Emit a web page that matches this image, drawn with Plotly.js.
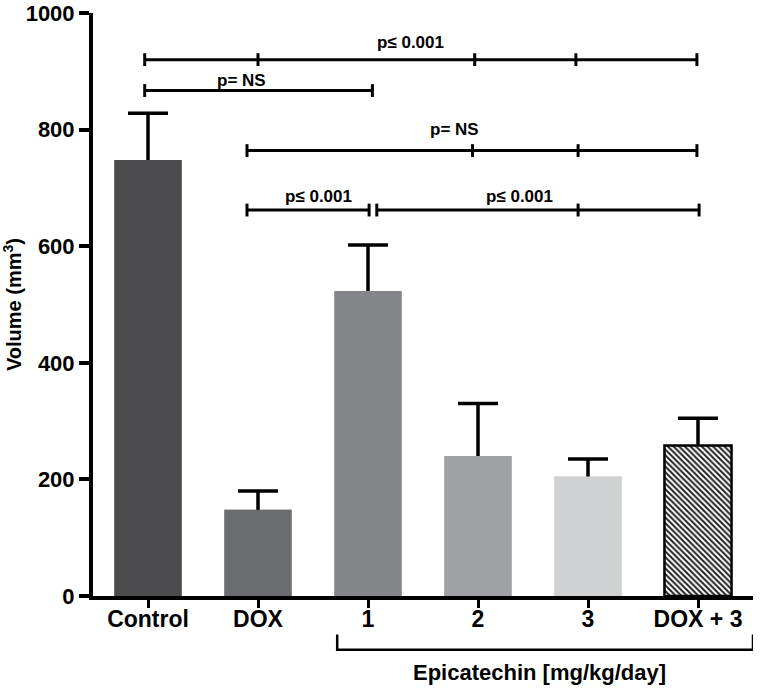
<!DOCTYPE html>
<html>
<head>
<meta charset="utf-8">
<script src="https://cdn.plot.ly/plotly-3.0.1.min.js"></script>
<style>html,body{margin:0;padding:0;background:#fff;}#chart{width:764px;height:688px;}</style>
</head>
<body>
<div id="chart"></div>
<script>
// ---- data ----
const categories = ['Control', 'DOX', '1', '2', '3', 'DOX + 3'];
const volumeMean = [748, 148, 523, 240, 205, 258];
const volumeErrUp = [80, 32, 79, 90, 30, 47];
const barColors = ['#4b4b4d', '#6b6c70', '#858689', '#9fa0a4', '#d0d1d3', '#ffffff'];
const yTickVals = [0, 200, 400, 600, 800, 1000];

// significance brackets: y level, tick positions (category index), label, label position
const sigY = [920, 867, 764, 662, 662];
const sigX = [
  [-0.03, 1.0, 2.97, 3.89, 4.99],
  [-0.03, 2.04],
  [0.9, 2.95, 3.91, 4.99],
  [0.9, 2.01],
  [2.08, 3.91, 5.01]
];
const sigLabels = ['p≤ 0.001', 'p= NS', 'p= NS', 'p≤ 0.001', 'p≤ 0.001'];
const sigLabelX = [2.39, 0.85, 2.79, 1.55, 3.38];
const sigLabelY = [949, 885, 800, 685, 685];
const groupLabel = 'Epicatechin [mg/kg/day]';

const FONT = 'Liberation Sans, Arial, Helvetica, sans-serif';
const BW = 0.61;

// trace with error bars (lower half hidden under the covering bars)
const errTrace = {
  type: 'bar', x: categories, y: volumeMean, width: BW,
  marker: {color: barColors, line: {width: 0}},
  error_y: {type: 'data', symmetric: true, array: volumeErrUp, color: '#000', thickness: 3.5, width: 20},
  hoverinfo: 'skip'
};
// solid bars covering the lower part of the error bars
const solidTrace = {
  type: 'bar', x: categories.slice(0, 5), y: volumeMean.slice(0, 5), width: BW,
  marker: {color: barColors.slice(0, 5), line: {width: 0}},
  hoverinfo: 'x+y'
};
// hatched DOX + 3 bar
const hatchTrace = {
  type: 'bar', x: categories.slice(5), y: volumeMean.slice(5), width: BW,
  marker: {
    color: '#ffffff',
    line: {color: '#000', width: 2.5},
    pattern: {shape: '\\', fgcolor: '#222', bgcolor: '#ffffff', size: 4, solidity: 0.5, fillmode: 'replace'}
  },
  hoverinfo: 'x+y'
};

const shapes = [];
const annotations = [];
const tickH = 11;
for (let i = 0; i < sigY.length; i++) {
  const xs = sigX[i];
  shapes.push({type: 'line', xref: 'x', yref: 'y', x0: xs[0], x1: xs[xs.length - 1], y0: sigY[i], y1: sigY[i], line: {color: '#000', width: 3}});
  xs.forEach(function (xv) {
    shapes.push({type: 'line', xref: 'x', yref: 'y', x0: xv, x1: xv, y0: sigY[i] - tickH, y1: sigY[i] + tickH, line: {color: '#000', width: 3}});
  });
  annotations.push({xref: 'x', yref: 'y', x: sigLabelX[i], y: sigLabelY[i], text: sigLabels[i], showarrow: false,
    xanchor: 'center', yanchor: 'middle', font: {family: FONT, size: 17, weight: 'bold', color: '#000'}});
}
// group bracket under epicatechin doses
shapes.push({type: 'path', xref: 'x', yref: 'paper', path: 'M 1.72 -0.066 L 1.72 -0.092 L 5.5 -0.092 L 5.5 -0.066', line: {color: '#000', width: 2.5}});
annotations.push({xref: 'x', yref: 'paper', x: 3.56, y: -0.131, text: groupLabel, showarrow: false,
  xanchor: 'center', yanchor: 'middle', font: {family: FONT, size: 22, weight: 'bold', color: '#000'}});

const layout = {
  width: 764, height: 688,
  margin: {l: 93, r: 11, t: 13, b: 92},
  paper_bgcolor: '#fff', plot_bgcolor: '#fff',
  showlegend: false,
  barmode: 'overlay',
  font: {family: FONT, color: '#000'},
  xaxis: {
    type: 'category', range: [-0.5, 5.5],
    showline: true, linecolor: '#000', linewidth: 4,
    ticks: 'outside', ticklen: 8, tickwidth: 3, tickcolor: '#000',
    ticklabelstandoff: -9,
    showgrid: false, zeroline: false,
    tickfont: {family: FONT, size: 23, weight: 'bold', color: '#000'},
    fixedrange: true
  },
  yaxis: {
    range: [0, 1000], tickvals: yTickVals,
    showline: true, linecolor: '#000', linewidth: 4,
    ticks: 'outside', ticklen: 10, tickwidth: 4, tickcolor: '#000',
    showgrid: false, zeroline: false,
    ticklabeloverflow: 'allow',
    tickfont: {family: FONT, size: 22, weight: 'bold', color: '#000'},
    title: {text: 'Volume (mm<sup>3</sup>)', font: {family: FONT, size: 20, weight: 'bold', color: '#000'}, standoff: 6},
    automargin: false,
    fixedrange: true
  },
  shapes: shapes,
  annotations: annotations
};

Plotly.newPlot('chart', [errTrace, solidTrace, hatchTrace], layout, {displayModeBar: false, staticPlot: true});
</script>
</body>
</html>
